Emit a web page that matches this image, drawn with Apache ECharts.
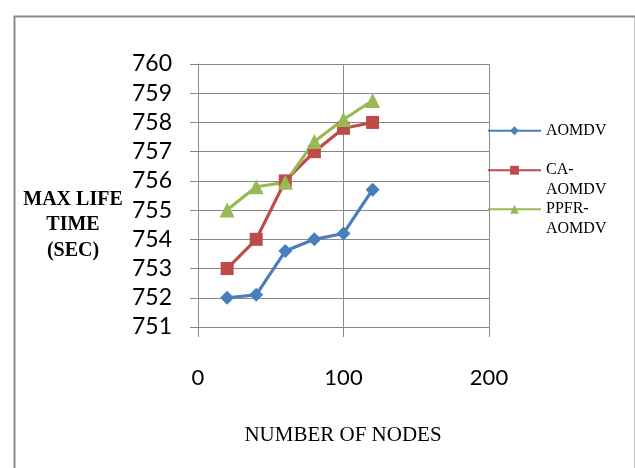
<!DOCTYPE html>
<html><head><meta charset="utf-8">
<script src="https://cdn.jsdelivr.net/npm/echarts@6/dist/echarts.min.js"></script>
<style>html,body{margin:0;padding:0;background:#fff}#c{width:635px;height:468px}</style>
</head><body><div id="c"></div>
<script>
const nodes = [20, 40, 60, 80, 100, 120];
const aomdv = [752.0, 752.1, 753.6, 754.0, 754.2, 755.7];
const caAomdv = [753.0, 754.0, 756.0, 757.0, 757.8, 758.0];
const ppfrAomdv = [755.0, 755.8, 755.95, 757.35, 758.1, 758.75];
const seriesNames = ['AOMDV', 'CA-\nAOMDV', 'PPFR-\nAOMDV'];
const colors = ['#4a7ebb', '#be4b48', '#98b954'];
const yAxisTitle = ['MAX LIFE', 'TIME', '(SEC)'];
const xAxisTitle = 'NUMBER OF NODES';

const chart = echarts.init(document.getElementById('c'));
const pair = (xs, ys) => xs.map((x, i) => [x, ys[i]]);
const serif = '"Liberation Serif", "DejaVu Serif", serif';

function legendAt(name, top, multi) {
  return {
    data: [name], left: 487, top: top, padding: 0, orient: 'vertical',
    itemWidth: 53, itemHeight: 11, itemGap: 0,
    formatter: n => (multi ? '\n' + n : n),
    textStyle: { fontFamily: serif, fontSize: 16, color: '#000', lineHeight: 19.5 }
  };
}

chart.setOption({
  animation: false,
  backgroundColor: '#fff',
  color: colors,
  grid: { left: 198, right: 146, top: 64, bottom: 141 },
  xAxis: {
    type: 'value', min: 0, max: 200, interval: 100,
    axisLine: { show: true, lineStyle: { color: '#888', width: 1 } },
    axisTick: { show: true, length: 10, lineStyle: { color: '#888' } },
    splitLine: { show: true, lineStyle: { color: '#888', width: 1 } },
    axisLabel: { margin: 40, fontFamily: 'Lato', fontSize: 22, color: '#000' }
  },
  yAxis: {
    type: 'value', min: 751, max: 760, interval: 1,
    axisLine: { show: true, lineStyle: { color: '#888', width: 1 } },
    axisTick: { show: true, length: 8, lineStyle: { color: '#888' } },
    splitLine: { show: true, lineStyle: { color: '#888', width: 1 } },
    axisLabel: { margin: 26, fontFamily: 'Lato', fontSize: 23, color: '#000' }
  },
  legend: [
    legendAt(seriesNames[0], 121, false),
    legendAt(seriesNames[1], 141, true),
    legendAt(seriesNames[2], 180, true)
  ],
  series: [
    { name: seriesNames[0], type: 'line', data: pair(nodes, aomdv), symbol: 'diamond', symbolSize: 14,
      lineStyle: { width: 3.2 }, itemStyle: { color: colors[0] } },
    { name: seriesNames[1], type: 'line', data: pair(nodes, caAomdv), symbol: 'rect', symbolSize: 13,
      lineStyle: { width: 3.2 }, itemStyle: { color: colors[1] } },
    { name: seriesNames[2], type: 'line', data: pair(nodes, ppfrAomdv), symbol: 'triangle', symbolSize: 15,
      lineStyle: { width: 3.2 }, itemStyle: { color: colors[2] } }
  ],
  graphic: [
    { type: 'rect', left: 12, top: 14, shape: { width: 621, height: 480 },
      style: { fill: 'none', stroke: '#8a8a8a', lineWidth: 2 }, silent: true },
    { type: 'text', x: 73, y: 200, style: { text: yAxisTitle[0], fontFamily: serif, fontWeight: 'bold', fontSize: 20, fill: '#000', align: 'center', verticalAlign: 'middle' } },
    { type: 'text', x: 73, y: 225, style: { text: yAxisTitle[1], fontFamily: serif, fontWeight: 'bold', fontSize: 20, fill: '#000', align: 'center', verticalAlign: 'middle' } },
    { type: 'text', x: 73, y: 251, style: { text: yAxisTitle[2], fontFamily: serif, fontWeight: 'bold', fontSize: 20, fill: '#000', align: 'center', verticalAlign: 'middle' } },
    { type: 'text', x: 343, y: 435, style: { text: xAxisTitle, fontFamily: serif, fontSize: 21, fill: '#000', align: 'center', verticalAlign: 'middle' } }
  ]
});
</script></body></html>
